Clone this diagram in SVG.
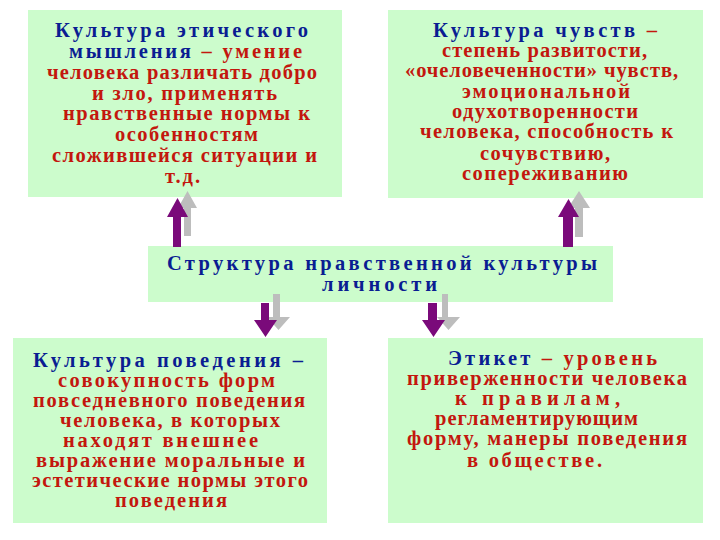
<svg xmlns="http://www.w3.org/2000/svg" width="720" height="540" viewBox="0 0 720 540">
<style>
.box{fill:#CCFCCC;}
text{font-family:"Liberation Serif","DejaVu Serif","Times New Roman",serif;font-weight:bold;font-size:20.5px;}
.b{fill:#0A1D92;}
.r{fill:#C3170E;}
.pu{fill:#7A0A7A;}
.gr{fill:#BDBDBD;}
</style>
<rect width="720" height="540" fill="#FFFFFF"/>
<g id="node-ethics">
<rect class="box" x="28" y="10" width="314" height="187"/>
<text x="55" y="37" textLength="253" lengthAdjust="spacing"><tspan class="b">Культура этического</tspan></text>
<text x="69" y="58" textLength="233" lengthAdjust="spacing"><tspan class="b">мышления</tspan><tspan class="r"> – умение</tspan></text>
<text class="r" x="47" y="79" textLength="270" lengthAdjust="spacing">человека различать добро</text>
<text class="r" x="92" y="100" textLength="185" lengthAdjust="spacing">и зло, применять</text>
<text class="r" x="63" y="120" textLength="247" lengthAdjust="spacing">нравственные нормы к</text>
<text class="r" x="115" y="141" textLength="143" lengthAdjust="spacing">особенностям</text>
<text class="r" x="52" y="162" textLength="265" lengthAdjust="spacing">сложившейся ситуации и</text>
<text class="r" x="165" y="183" textLength="35" lengthAdjust="spacing">т.д.</text>
</g>
<g id="node-feelings">
<rect class="box" x="388" y="10" width="315" height="188"/>
<text x="433" y="37" textLength="224" lengthAdjust="spacing"><tspan class="b">Культура чувств</tspan><tspan class="r"> –</tspan></text>
<text class="r" x="442" y="57" textLength="205" lengthAdjust="spacing">степень развитости,</text>
<text class="r" x="405" y="77" textLength="273" lengthAdjust="spacing">«очеловеченности» чувств,</text>
<text class="r" x="462" y="98" textLength="168" lengthAdjust="spacing">эмоциональной</text>
<text class="r" x="452" y="118" textLength="186" lengthAdjust="spacing">одухотворенности</text>
<text class="r" x="420" y="138" textLength="253" lengthAdjust="spacing">человека, способность к</text>
<text class="r" x="480" y="160" textLength="130" lengthAdjust="spacing">сочувствию,</text>
<text class="r" x="462" y="180" textLength="166" lengthAdjust="spacing">сопереживанию</text>
</g>
<g id="node-structure">
<rect class="box" x="148" y="246" width="465" height="56"/>
<text class="b" x="167" y="270" textLength="430" lengthAdjust="spacing">Структура нравственной культуры</text>
<text class="b" x="322" y="291" textLength="115" lengthAdjust="spacing">личности</text>
</g>
<g id="node-behavior">
<rect class="box" x="13" y="338" width="314" height="185"/>
<text x="33" y="367" textLength="270" lengthAdjust="spacing"><tspan class="b">Культура поведения –</tspan></text>
<text class="r" x="58" y="387" textLength="217" lengthAdjust="spacing">совокупность форм</text>
<text class="r" x="33" y="407" textLength="272" lengthAdjust="spacing">повседневного поведения</text>
<text class="r" x="60" y="427" textLength="220" lengthAdjust="spacing">человека, в которых</text>
<text class="r" x="63" y="447" textLength="195" lengthAdjust="spacing">находят внешнее</text>
<text class="r" x="36" y="467" textLength="269" lengthAdjust="spacing">выражение моральные и</text>
<text class="r" x="32" y="487" textLength="276" lengthAdjust="spacing">эстетические нормы этого</text>
<text class="r" x="115" y="507" textLength="112" lengthAdjust="spacing">поведения</text>
</g>
<g id="node-etiquette">
<rect class="box" x="388" y="338" width="315" height="185"/>
<text x="448" y="365" textLength="209" lengthAdjust="spacing"><tspan class="b">Этикет</tspan><tspan class="r"> – уровень</tspan></text>
<text class="r" x="407" y="385" textLength="280" lengthAdjust="spacing">приверженности человека</text>
<text class="r" x="455" y="405" textLength="165" lengthAdjust="spacing">к правилам,</text>
<text class="r" x="435" y="425" textLength="203" lengthAdjust="spacing">регламентирующим</text>
<text class="r" x="407" y="445" textLength="280" lengthAdjust="spacing">форму, манеры поведения</text>
<text class="r" x="467" y="467" textLength="135" lengthAdjust="spacing">в обществе.</text>
</g>
<g id="connectors">
<polygon class="gr" points="187.5,191 197,208 191,208 191,236 184,236 184,208 178,208"/>
<polygon class="pu" points="177.5,198 188,217 181,217 181,247 173,247 173,217 167,217"/>
<polygon class="gr" points="579,191 590,208 583,208 583,237 575,237 575,208 568,208"/>
<polygon class="pu" points="568.5,199 579,217 573,217 573,247 563,247 563,217 558,217"/>
<polygon class="gr" points="273,294 280,294 280,317 290,317 278.5,330 267,317 273,317"/>
<polygon class="pu" points="261,303 269,303 269,320 277,320 265.5,337 254,320 261,320"/>
<polygon class="gr" points="442,294 448,294 448,317 460,317 448.5,330 437,317 442,317"/>
<polygon class="pu" points="428,303 437,303 437,320 445,320 433.5,337 422,320 428,320"/>
</g>
</svg>
